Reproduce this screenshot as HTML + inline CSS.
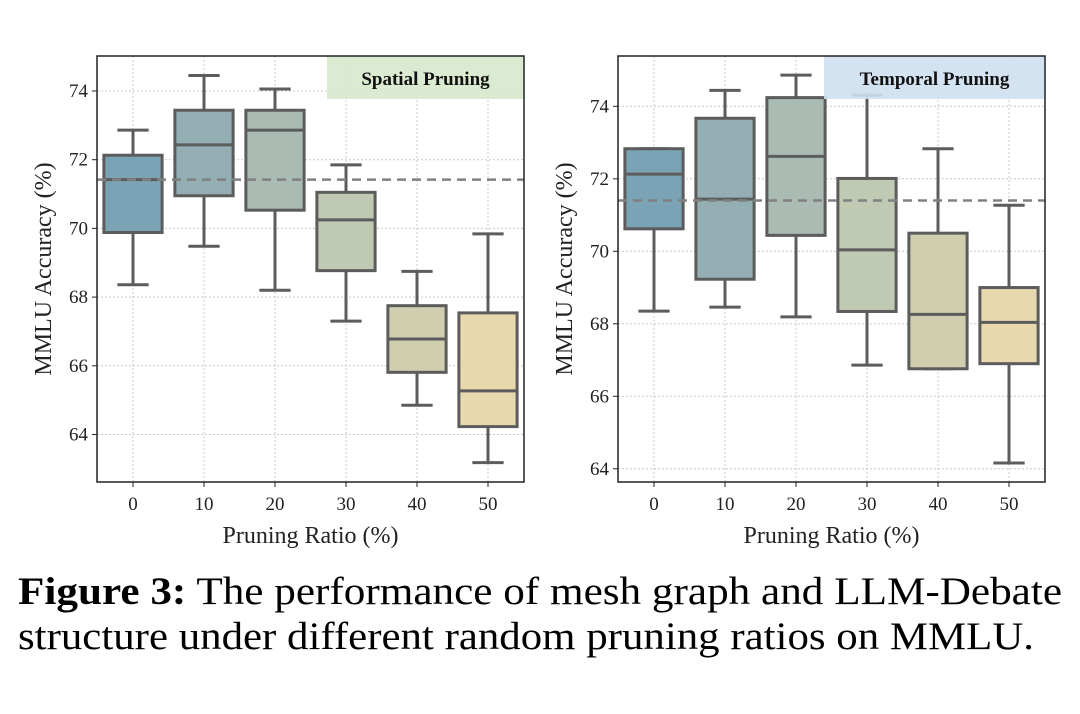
<!DOCTYPE html>
<html><head><meta charset="utf-8"><style>
html,body{margin:0;padding:0;background:#fff;}
svg{display:block;font-family:"Liberation Serif",serif;}
</style></head><body>
<svg id="fig" width="1080" height="714" viewBox="0 0 1080 714">
<text x="18" y="604" font-size="39" textLength="1044" lengthAdjust="spacingAndGlyphs"><tspan font-weight="bold">Figure 3:</tspan> The performance of mesh graph and LLM-Debate</text>
<text x="18" y="649" font-size="39" textLength="1016" lengthAdjust="spacingAndGlyphs">structure under different random pruning ratios on MMLU.</text>
</svg>
<script>
const categories=["0","10","20","30","40","50"];
const yTicks=[64,66,68,70,72,74];
const spatialHigh=[72.86,74.45,74.06,71.85,68.75,69.84];
const spatialQ3=[72.13,73.44,73.44,71.05,67.75,67.54];
const spatialMed=[71.42,72.43,72.86,70.25,66.78,65.27];
const spatialQ1=[69.88,70.95,70.53,68.77,65.81,64.23];
const spatialLow=[68.36,69.48,68.2,67.3,64.85,63.18];
const spatialRef=71.42;
const temporalHigh=[72.83,74.44,74.86,74.31,72.83,71.27];
const temporalQ3=[72.83,73.67,74.24,72.01,70.5,69.0];
const temporalMed=[72.13,71.44,72.62,70.04,68.26,68.04];
const temporalQ1=[70.62,69.23,70.44,68.34,66.76,66.9];
const temporalLow=[68.35,68.46,68.19,66.86,66.76,64.16];
const temporalRef=71.4;
const colors=["#7aa3b5","#93afb3","#a9bbb2","#c0c9b2","#d1ceb0","#e7d8ae"];
const NS="http://www.w3.org/2000/svg";
const svg=document.getElementById('fig');
function mk(tag,attrs,parent,txt){const e=document.createElementNS(NS,tag);for(const k in attrs)e.setAttribute(k,attrs[k]);if(txt!==undefined)e.textContent=txt;(parent||svg).appendChild(e);return e;}
function panel(cfg){
  const g=mk('g',{});
  
  
  const y=v=>cfg.y0-(v-74)*cfg.ppu;
  const x=i=>cfg.cx0+i*cfg.step;
  yTicks.forEach(t=>{const l=mk('line',{x1:cfg.L,x2:cfg.R,y1:y(t),y2:y(t),stroke:'#c8c8c8','stroke-width':1,'stroke-dasharray':'2,2'},g);
    
    const tl=mk('line',{x1:cfg.L-5,x2:cfg.L,y1:y(t),y2:y(t),stroke:'#222','stroke-width':1},g);
    
    const tx=mk('text',{x:cfg.L-9,y:y(t)+6,'font-size':19,'text-anchor':'end',fill:'#222'},g,String(t));
    });
  categories.forEach((c,i)=>{const l=mk('line',{x1:x(i),x2:x(i),y1:cfg.T,y2:cfg.B,stroke:'#c8c8c8','stroke-width':1,'stroke-dasharray':'2,2'},g);
    
    const tl=mk('line',{x1:x(i),x2:x(i),y1:cfg.B,y2:cfg.B+5,stroke:'#222','stroke-width':1},g);
    
    const tx=mk('text',{x:x(i),y:cfg.B+28,'font-size':19,'text-anchor':'middle',fill:'#222'},g,c);
    });
  const hw=cfg.step*0.41, cw=cfg.step*0.22, st='#5c5c5c';
  categories.forEach((c,i)=>{
    const bg=mk('g',{},g);
    
    mk('line',{x1:x(i),x2:x(i),y1:y(cfg.hi[i]),y2:y(cfg.q3[i]),stroke:st,'stroke-width':3},bg);
    mk('line',{x1:x(i),x2:x(i),y1:y(cfg.q1[i]),y2:y(cfg.lo[i]),stroke:st,'stroke-width':3},bg);
    mk('line',{x1:x(i)-cw,x2:x(i)+cw,y1:y(cfg.hi[i]),y2:y(cfg.hi[i]),stroke:st,'stroke-width':3},bg);
    mk('line',{x1:x(i)-cw,x2:x(i)+cw,y1:y(cfg.lo[i]),y2:y(cfg.lo[i]),stroke:st,'stroke-width':3},bg);
    mk('rect',{x:x(i)-hw,y:y(cfg.q3[i]),width:2*hw,height:y(cfg.q1[i])-y(cfg.q3[i]),fill:colors[i],stroke:st,'stroke-width':3},bg);
    mk('line',{x1:x(i)-hw,x2:x(i)+hw,y1:y(cfg.med[i]),y2:y(cfg.med[i]),stroke:st,'stroke-width':3},bg);
  });
  const d=mk('line',{x1:cfg.L,x2:cfg.R,y1:y(cfg.ref),y2:y(cfg.ref),stroke:'#808080','stroke-width':2.5,'stroke-dasharray':'9,6'},g);
  
  const lb=mk('rect',{x:cfg.lx,y:cfg.T,width:cfg.R-cfg.lx,height:43,fill:cfg.lc,'fill-opacity':0.9},g);
  
  const lt=mk('text',{x:(cfg.lx+cfg.R)/2,y:cfg.T+29,'font-size':19,'font-weight':'bold','text-anchor':'middle',fill:'#111'},g,cfg.title);
  
  const fr=mk('rect',{x:cfg.L,y:cfg.T,width:cfg.R-cfg.L,height:cfg.B-cfg.T,fill:'none',stroke:'#222','stroke-width':1.5},g);
  
  const xt=mk('text',{x:(cfg.L+cfg.R)/2,y:cfg.B+61,'font-size':24,'text-anchor':'middle',fill:'#222'},g,'Pruning Ratio (%)');
  
  const yt=mk('text',{x:0,y:0,'font-size':24,'text-anchor':'middle',fill:'#222',transform:`translate(${cfg.L-46},${(cfg.T+cfg.B)/2}) rotate(-90)`},g,'MMLU Accuracy (%)');
  
}
panel({name:'spatial-pruning-chart',L:97,R:524,T:56,B:482,y0:91,ppu:34.35,cx0:133,step:71,
  hi:spatialHigh,q3:spatialQ3,med:spatialMed,q1:spatialQ1,lo:spatialLow,ref:spatialRef,lx:327,lc:'#d6e9cd',title:'Spatial Pruning'});
panel({name:'temporal-pruning-chart',L:618,R:1045,T:56,B:482,y0:106.3,ppu:36.25,cx0:654,step:71,
  hi:temporalHigh,q3:temporalQ3,med:temporalMed,q1:temporalQ1,lo:temporalLow,ref:temporalRef,lx:824,lc:'#cfe0f0',title:'Temporal Pruning'});
</script>
</body></html>
